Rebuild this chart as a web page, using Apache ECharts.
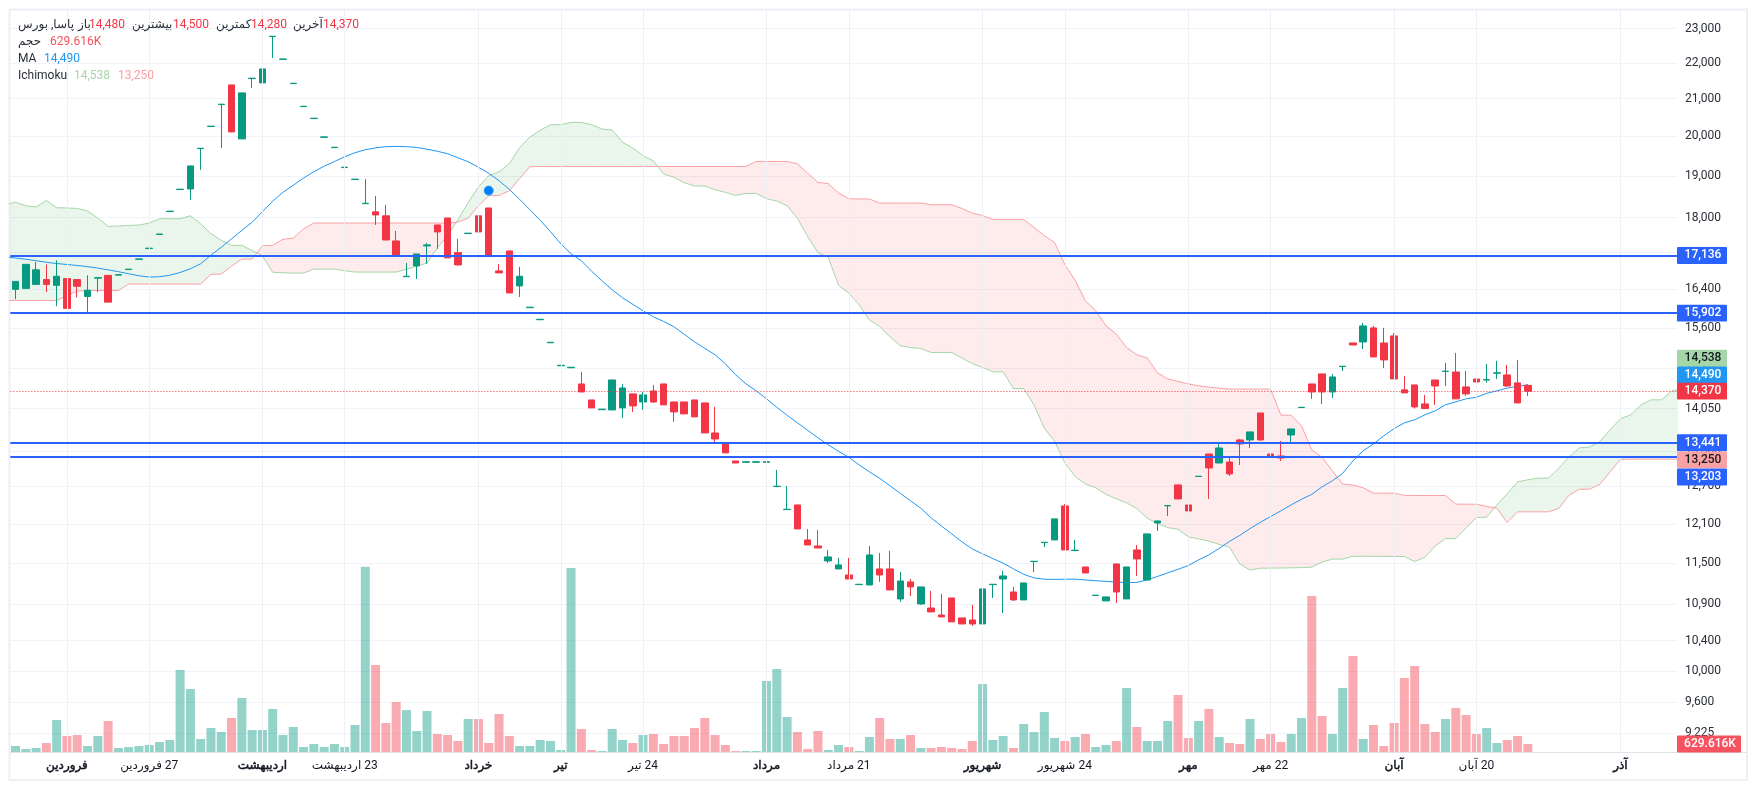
<!DOCTYPE html>
<html>
<head>
<meta charset="utf-8">
<title>پاسا</title>
<script src="https://cdn.jsdelivr.net/npm/echarts@6/dist/echarts.min.js"></script>
<style>
html, body { margin: 0; padding: 0; background: #fff; }
#chart { width: 1757px; height: 790px; }
</style>
</head>
<body>
<div id="chart"></div>
<script>
// candles, one per trading day
var opens = [
    16400,16420,16505,16610,16485,16630,16610,16250,16640,16700,
    16705,16825,17050,17290,17610,18140,18665,18680,19685,20255,
    20840,21378,19933,21555,21434,22760,22100,21415,20785,20465,
    19975,19709,19205,18909,18327,18133,18040,17462,16671,16905,
    17350,17828,17990,17200,17629,18040,18225,16796,17237,16473,
    16014,15766,15302,14852,14814,14506,14208,14030,14025,14062,
    14320,14171,14375,14506,14171,14171,14208,14153,13613,13420,
    13127,13105,13105,13105,12699,12325,12399,11849,11757,11531,
    11412,11323,11182,11177,11412,11412,10976,11221,10905,10848,
    10750,10990,10709,10681,10626,11182,11264,11076,10962,11521,
    11808,11849,12383,11687,11441,11025,10948,11486,10976,11696,
    11249,12113,12385,12725,12399,12865,13247,13093,13110,13490,
    13490,13970,13247,13212,13577,14069,14506,14696,14356,14838,
    15298,15318,15600,15298,15438,14395,14488,14135,14581,14743,
    14733,14450,14600,14580,14711,14677,14526,14480
];
var closes = [
    16570,16940,16820,16505,16680,16000,16465,16380,16650,16130,
    16715,16835,17060,17300,17620,18150,18675,19246,19693,20265,
    20851,20114,21158,21566,21826,22771,22110,21425,20795,20475,
    19985,19719,19215,18919,18337,18061,17484,17149,16681,17170,
    17373,17667,17082,16928,17639,17667,17128,16753,16323,16680,
    16024,15776,15312,14862,14824,14356,14062,14040,14581,14431,
    14099,14301,14171,14117,13989,13953,13899,13613,13507,13266,
    13093,13115,13115,13115,12704,12330,12019,11772,11726,11591,
    11471,11264,11187,11621,11323,11105,11235,11149,11149,10793,
    10723,10654,10626,10626,11120,11187,11308,10962,11206,11526,
    11813,12177,11696,11692,11352,11030,11005,11076,11441,11561,
    11942,12145,12390,12496,12303,12870,13009,13350,12908,13420,
    13631,13490,13212,13178,13684,14074,14356,14356,14638,14843,
    15258,15640,15023,14965,14600,14339,14081,14050,14468,14748,
    14228,14320,14543,14590,14716,14468,14153,14370
];
var lows = [
    16190,16420,16505,16340,16045,16000,16230,15920,16340,16130,
    16705,16825,17050,17290,17610,18140,18665,18416,19147,20255,
    19700,20114,19933,21297,21407,22140,22100,21415,20785,20465,
    19975,19709,19205,18909,18327,17828,17484,17149,16671,16622,
    16950,17283,17082,16915,17629,17200,17128,16753,16323,16238,
    16014,15766,15302,14852,14814,14356,14062,14030,14025,13881,
    13989,14025,14153,14117,13809,13953,13899,13613,13420,13266,
    13093,13105,13105,13105,12699,12325,12019,11772,11726,11501,
    11412,11264,11182,11177,11221,11105,10934,11019,10892,10793,
    10723,10654,10626,10598,10612,10990,10778,10948,10962,11367,
    11741,11849,11696,11687,11352,11025,10948,10918,10976,11308,
    11249,11988,12224,12496,12303,12865,12496,13093,12874,13059,
    13350,13473,13212,13127,13420,14069,14228,14135,14245,14752,
    15258,15180,15023,14810,14600,14339,14050,14050,14117,14468,
    14228,14282,14356,14530,14600,14450,14153,14280
];
var highs = [
    16570,16940,16990,16940,17030,16630,16610,16700,16650,16700,
    16715,16835,17060,17300,17620,18150,18675,19246,19693,20265,
    20851,21378,21158,21566,22227,22771,22110,21425,20795,20475,
    19985,19719,19215,18919,18919,18512,18297,17690,16971,17170,
    17417,17828,17990,17508,17639,18040,18225,16950,17237,16884,
    16024,15776,15312,14862,14824,14733,14208,14040,14581,14506,
    14320,14356,14488,14506,14171,14171,14208,14153,14081,13420,
    13127,13115,13115,13115,12975,12710,12399,12019,12004,11696,
    11576,11576,11187,11757,11651,11682,11367,11264,11149,11089,
    11048,10990,10709,10892,11120,11187,11382,11149,11206,11526,
    11813,12177,12412,11849,11441,11030,11005,11486,11441,11772,
    11942,12145,12390,12725,12992,12870,13247,13437,13212,13507,
    13631,13970,13970,13473,13684,14074,14506,14696,14696,14843,
    15298,15701,15640,15600,15497,14658,14488,14301,14581,14908,
    15101,14752,14947,14887,14947,14868,14965,14500
];
// volume in thousands
var volumes = [
    472,236,315,708,2518,1259,1338,472,1259,2440,
    315,393,472,551,787,944,6454,4958,1023,1889,
    1574,2676,4250,1731,1731,3384,1338,1968,393,630,
    393,630,393,2125,14586,6847,2282,3935,3306,1653,
    3227,1417,1338,866,2597,2597,708,2991,1259,472,
    472,944,866,157,14481,1810,157,79,1810,944,
    708,1338,1417,630,1259,1259,1889,2676,1338,551,
    79,79,79,5588,6532,2755,1574,236,1653,157,
    551,393,79,1181,2676,1023,1023,1338,315,315,
    393,315,236,866,5352,944,1259,315,2204,1574,
    3148,1102,866,1181,1417,393,551,866,5037,1968,
    866,866,2440,4486,1102,2440,3384,1181,708,630,
    2597,1023,1417,787,1417,2676,12278,2833,1417,5037,
    7556,1023,2125,472,2282,5824,6768,2204,1574,2597,
    3463,2912,1417,1889,708,944,1259,629.616
];
// moving average, starts one slot before the first candle
var maLine = [
    17107,
    17079,17053,17019,16986,16958,16937,16915,16890,16858,16820,
    16780,16735,16690,16663,16670,16702,16762,16843,16953,17142,
    17320,17512,17702,17891,18137,18385,18600,18770,18947,19102,
    19239,19356,19477,19579,19655,19702,19733,19740,19733,19715,
    19668,19617,19553,19452,19351,19214,19065,18881,18670,18431,
    18184,17938,17672,17398,17175,17019,16789,16583,16391,16221,
    16085,15950,15826,15730,15622,15471,15321,15192,15065,14890,
    14679,14508,14377,14229,14074,13928,13793,13660,13527,13405,
    13292,13190,13061,12943,12835,12711,12587,12465,12347,12193,
    12066,11943,11819,11712,11637,11566,11498,11413,11332,11280,
    11261,11258,11261,11262,11250,11239,11229,11219,11211,11214,
    11250,11301,11354,11406,11462,11547,11622,11720,11827,11919,
    12025,12122,12214,12305,12401,12490,12571,12694,12793,12918,
    13129,13301,13422,13562,13689,13793,13847,13937,14009,14119,
    14173,14229,14257,14331,14377,14428,14461,14490
];
// ichimoku cloud edges, run 26 slots past the last candle
var senkouA = [
    18302,
    18361,18278,18247,18404,18231,18224,18214,18153,17989,17794,
    17803,17817,17826,17872,17973,17973,17973,18043,17856,17627,
    17478,17361,17361,17248,17130,16767,16756,16749,16749,16836,
    16836,16836,16799,16771,16771,16771,16771,16771,16832,16898,
    16968,17301,17581,17949,18349,18735,19004,19102,19301,19706,
    19981,20153,20303,20303,20364,20364,20303,20190,20164,19847,
    19699,19502,19376,19045,18967,18832,18751,18751,18661,18596,
    18524,18572,18572,18445,18390,18278,17984,17559,17197,17097,
    16486,16316,16074,15763,15629,15421,15242,15208,15189,15110,
    15110,15110,15000,14894,14819,14736,14736,14420,14420,14118,
    13699,13466,13095,12865,12739,12678,12570,12498,12433,12342,
    12187,12107,12039,12016,11897,11866,11830,11781,11739,11487,
    11394,11423,11424,11426,11428,11432,11438,11513,11558,11558,
    11601,11601,11600,11600,11598,11597,11522,11586,11758,11870,
    11870,12036,12198,12204,12401,12579,12776,12810,12838,12838,
    13005,13190,13353,13365,13463,13668,13865,13937,14118,14210,
    14210,14377,14414
];
var senkouB = [
    16165,
    16165,16165,16165,16165,16165,16270,16363,16370,16376,16376,
    16376,16512,16512,16512,16512,16512,16512,16512,16512,16723,
    16728,16898,17057,17057,17354,17361,17500,17527,17741,17872,
    17872,17872,17872,17872,17872,17872,17872,17872,17872,17872,
    17872,17872,17872,17895,17984,18278,18517,18524,18637,18930,
    19226,19234,19234,19234,19234,19234,19234,19234,19234,19234,
    19234,19234,19234,19234,19234,19234,19234,19234,19234,19234,
    19234,19234,19359,19359,19359,19359,19301,19065,18839,18808,
    18582,18445,18438,18438,18342,18342,18342,18342,18342,18302,
    18302,18302,18214,18104,18047,17956,17956,17956,17956,17768,
    17581,17428,16931,16594,16158,15949,15643,15475,15208,15065,
    15006,14717,14602,14555,14508,14471,14445,14426,14409,14409,
    14409,14409,14409,13932,13928,13740,13317,13190,12960,12739,
    12724,12678,12590,12590,12590,12555,12552,12552,12552,12552,
    12412,12412,12410,12377,12345,12119,12289,12289,12289,12289,
    12342,12555,12655,12655,12735,12943,13155,13158,13158,13158,
    13158,13158,13158
];
var levels = [17136, 15902, 13441, 13203];
var lastPrice = 14370;
var lastVolume = 629.616;
var flagSlot = 47;
var flagPrice = 18640;
var priceTicks = [23000,22000,21000,20000,19000,18000,17200,16400,15600,14800,14050,13300,12700,12100,11500,10900,10400,10000,9600,9225];
var tickSlots = [6,14,25,33,46,54,62,74,82,95,103,115,123,135,143,157];
var tickLabels = ['فروردین','27 فروردین','اردیبهشت','23 اردیبهشت','خرداد','تیر','24 تیر','مرداد','21 مرداد','شهریور','24 شهریور','مهر','22 مهر','آبان','20 آبان','آذر'];

var UP = '#089981';
var DOWN = '#f23645';
var BLUE = '#2962ff';
var FONT = 'Roboto, "DejaVu Sans", sans-serif';

var categories = senkouA.map(function (v, k) {
    var t = tickSlots.indexOf(k);
    return t >= 0 ? tickLabels[t] : String(k);
});
var candleData = [['-', '-', '-', '-']].concat(opens.map(function (o, i) {
    return [o, closes[i], lows[i], highs[i]];
}));
var volumeData = ['-'].concat(volumes);

// green where A is on top, red where B is on top, split at the crossings
function renderCloud(params, api) {
    var polys = [];
    var upper = [], lower = [], sign = null;
    function flush() {
        if (upper.length > 1) {
            polys.push({
                type: 'polygon',
                shape: { points: upper.concat(lower.slice().reverse()) },
                style: { fill: sign ? 'rgba(67,160,71,0.11)' : 'rgba(242,54,69,0.1)' }
            });
        }
    }
    var prevA, prevB;
    senkouA.forEach(function (a, k) {
        var pa = api.coord([k, a]);
        var pb = api.coord([k, senkouB[k]]);
        var s = pa[1] <= pb[1];
        if (sign !== null && s !== sign) {
            var d1 = prevA[1] - prevB[1], d2 = pa[1] - pb[1];
            var t = d1 / (d1 - d2);
            var cross = [prevA[0] + (pa[0] - prevA[0]) * t, prevA[1] + (pa[1] - prevA[1]) * t];
            upper.push(cross);
            flush();
            upper = [cross];
            lower = [];
        }
        upper.push(pa);
        lower.push(pb);
        sign = s;
        prevA = pa;
        prevB = pb;
    });
    flush();
    return { type: 'group', children: polys };
}

var option = {
    animation: false,
    textStyle: { fontFamily: FONT },
    grid: { left: 10.36, top: 10, width: 1666.64, height: 742, containLabel: false },
    dataZoom: [{ type: 'inside', xAxisIndex: 0, startValue: 1, endValue: 162, filterMode: 'none', disabled: true }],
    xAxis: {
        type: 'category',
        data: categories,
        axisLine: { lineStyle: { color: '#e0e3eb' } },
        axisTick: { show: false },
        splitLine: { show: false },
        axisLabel: {
            margin: 8,
            fontFamily: FONT,
            fontSize: 12,
            color: '#131722',
            interval: function (index) {
                return tickSlots.indexOf(index) >= 0;
            },
            formatter: function (value) {
                // digits sit to the right of the month in the original
                var text = '\u202B' + value + '\u202C';
                return /\d/.test(value) ? text : '{m|' + text + '}';
            },
            // DejaVu Bold runs far too wide, so thicken the regular weight instead
            rich: { m: { fontSize: 12, fontFamily: FONT, color: '#131722', textBorderColor: '#131722', textBorderWidth: 0.5 } }
        }
    },
    yAxis: [
        {
            type: 'log',
            position: 'right',
            min: 9000,
            max: 23560,
            axisLine: { show: false },
            axisTick: { show: false, customValues: priceTicks },
            splitLine: { lineStyle: { color: '#f0f3fa' } },
            axisLabel: {
                customValues: priceTicks,
                margin: 8,
                fontSize: 12,
                fontFamily: FONT,
                color: '#2a2e39',
                formatter: function (v) { return Number(v).toLocaleString('en-US'); }
            }
        },
        { type: 'value', min: 0, max: 58400, show: false }
    ],
    series: [
        {
            name: 'cloud',
            type: 'custom',
            renderItem: renderCloud,
            data: [[1]],
            encode: { x: 0 },
            clip: true,
            silent: true,
            z: 1
        },
        {
            name: 'حجم',
            type: 'bar',
            yAxisIndex: 1,
            data: volumeData,
            barWidth: 9,
            silent: true,
            z: 1,
            itemStyle: {
                color: function (p) {
                    var i = p.dataIndex - 1;
                    return closes[i] >= opens[i] ? 'rgba(8,153,129,0.43)' : 'rgba(242,54,69,0.42)';
                }
            },
            markLine: {
                silent: true,
                symbol: 'none',
                label: { show: false },
                lineStyle: { color: '#eef0f5', width: 1, type: 'solid' },
                data: tickSlots.map(function (k) { return { xAxis: k }; })
            }
        },
        {
            name: 'SenkouA',
            type: 'line',
            data: senkouA,
            symbol: 'none',
            silent: true,
            z: 2,
            lineStyle: { color: '#a5d6a7', width: 1 }
        },
        {
            name: 'SenkouB',
            type: 'line',
            data: senkouB,
            symbol: 'none',
            silent: true,
            z: 2,
            lineStyle: { color: '#faa1a4', width: 1 }
        },
        {
            name: 'MA',
            type: 'line',
            data: maLine,
            symbol: 'none',
            silent: true,
            z: 3,
            lineStyle: { color: '#2196f3', width: 1 },
            markLine: {
                silent: true,
                symbol: 'none',
                label: { show: false },
                data: levels.map(function (v) {
                    return { yAxis: v, lineStyle: { color: BLUE, width: 2, type: 'solid' } };
                }).concat([{ yAxis: lastPrice, lineStyle: { color: DOWN, width: 1, type: [1, 2] } }])
            }
        },
        {
            name: 'پاسا',
            type: 'candlestick',
            data: candleData,
            barWidth: 7,
            silent: true,
            z: 4,
            itemStyle: { color: UP, color0: DOWN, borderColor: UP, borderColor0: DOWN, borderWidth: 1 },
            markPoint: {
                silent: true,
                symbol: 'circle',
                symbolSize: 9,
                label: { show: false },
                itemStyle: { color: '#007fff', borderColor: '#2196f3', borderWidth: 1 },
                data: [{ coord: [flagSlot, flagPrice] }]
            }
        }
    ]
};

var myChart = echarts.init(document.getElementById('chart'));
myChart.setOption(option);

function headerText(x, y, text, color) {
    return {
        type: 'text', x: x, y: y + 1, z: 20,
        style: { text: text, fill: color, font: '12px ' + FONT, verticalAlign: 'middle' }
    };
}

// price and volume tags sit on the axis, some pushed off their value so they stack
function tagShapes(value, axisIndex, shift, bg, fg, text, w) {
    var query = { yAxisIndex: axisIndex };
    var y = myChart.convertToPixel(query, value) + shift;
    return [
        { type: 'rect', z: 30, shape: { x: 1677, y: y - 8.4, width: w, height: 16.8, r: 1 }, style: { fill: bg } },
        { type: 'text', z: 31, x: 1678 + w / 2, y: y, style: { text: text, fill: fg, font: '500 12px ' + FONT, align: 'center', verticalAlign: 'middle' } }
    ];
}

var fmt = function (v) { return v.toLocaleString('en-US'); };
var graphics = [
    { type: 'rect', z: -1, shape: { x: 9.5, y: 9.5, width: 1737.5, height: 770.5 }, style: { fill: 'none', stroke: '#eeeff5', lineWidth: 2 } },
    { type: 'line', z: 5, shape: { x1: 1677, y1: 752.5, x2: 1747, y2: 752.5 }, style: { stroke: '#e0e3eb', lineWidth: 1 } },
    headerText(18, 24, 'پاسا, بورس', '#2a2e39'),
    headerText(78, 24, 'باز', '#2a2e39'),
    headerText(89, 24, '14,480', DOWN),
    headerText(132, 24, 'بیشترین', '#2a2e39'),
    headerText(173, 24, '14,500', DOWN),
    headerText(216, 24, 'کمترین', '#2a2e39'),
    headerText(251, 24, '14,280', DOWN),
    headerText(293, 24, 'آخرین', '#2a2e39'),
    headerText(323, 24, '14,370', DOWN),
    headerText(18, 41, 'حجم', '#2a2e39'),
    headerText(50, 41, '629.616K', '#f7525f'),
    headerText(18, 58, 'MA', '#2a2e39'),
    headerText(44, 58, '14,490', '#2196f3'),
    headerText(18, 75, 'Ichimoku', '#2a2e39'),
    headerText(74, 75, '14,538', '#a5d6a7'),
    headerText(118, 75, '13,250', '#faa1a4')
].concat(
    tagShapes(17136, 0, 0, BLUE, '#fff', fmt(17136), 50),
    tagShapes(15902, 0, 0, BLUE, '#fff', fmt(15902), 50),
    tagShapes(14538, 0, -24, '#a5d6a7', '#131722', fmt(14538), 50),
    tagShapes(14490, 0, -10, '#2196f3', '#fff', fmt(14490), 50),
    tagShapes(lastPrice, 0, 0, DOWN, '#fff', fmt(lastPrice), 50),
    tagShapes(13441, 0, 0, BLUE, '#fff', fmt(13441), 50),
    tagShapes(13250, 0, 6, '#faa1a4', '#131722', fmt(13250), 50),
    tagShapes(13203, 0, 20.5, BLUE, '#fff', fmt(13203), 50),
    tagShapes(lastVolume, 1, 0, '#f7525f', '#fff', '629.616K', 64)
);
myChart.setOption({ graphic: graphics });
</script>
</body>
</html>
